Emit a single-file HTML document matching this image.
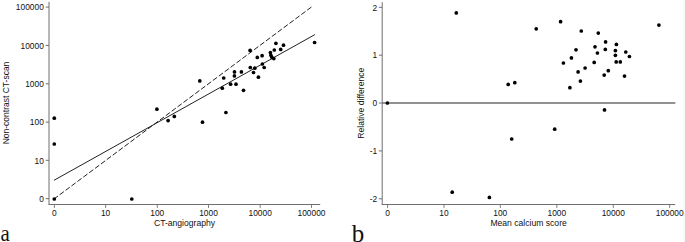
<!DOCTYPE html>
<html><head><meta charset="utf-8"><style>
html,body{margin:0;padding:0;background:#fff;}
svg{display:block;}
text{font-family:"Liberation Sans",sans-serif;font-size:8.4px;fill:#111;}
text.ser{font-family:"Liberation Serif",serif;}
</style></head><body>
<svg width="685" height="242" viewBox="0 0 685 242">
<rect x="683.3" y="0" width="1.7" height="242" fill="#f6f8fa"/>
<line x1="49.0" y1="1.9" x2="49.0" y2="204.5" stroke="#6e6e6e" stroke-width="1"/><line x1="48.5" y1="204.5" x2="320.2" y2="204.5" stroke="#6e6e6e" stroke-width="1"/><line x1="45.7" y1="198.7" x2="49.0" y2="198.7" stroke="#6e6e6e" stroke-width="1"/><text x="43.8" y="201.9" text-anchor="end">0</text><line x1="45.7" y1="160.3" x2="49.0" y2="160.3" stroke="#6e6e6e" stroke-width="1"/><text x="43.8" y="163.5" text-anchor="end">10</text><line x1="45.7" y1="122.1" x2="49.0" y2="122.1" stroke="#6e6e6e" stroke-width="1"/><text x="43.8" y="125.3" text-anchor="end">100</text><line x1="45.7" y1="83.8" x2="49.0" y2="83.8" stroke="#6e6e6e" stroke-width="1"/><text x="43.8" y="87.0" text-anchor="end">1000</text><line x1="45.7" y1="45.4" x2="49.0" y2="45.4" stroke="#6e6e6e" stroke-width="1"/><text x="43.8" y="48.6" text-anchor="end">10000</text><line x1="45.7" y1="7.1" x2="49.0" y2="7.1" stroke="#6e6e6e" stroke-width="1"/><text x="43.8" y="10.3" text-anchor="end">100000</text><line x1="54.4" y1="204.5" x2="54.4" y2="207.9" stroke="#6e6e6e" stroke-width="0.9"/><text x="54.4" y="216.3" text-anchor="middle">0</text><line x1="105.6" y1="204.5" x2="105.6" y2="207.9" stroke="#6e6e6e" stroke-width="0.9"/><text x="105.6" y="216.3" text-anchor="middle">10</text><line x1="157.3" y1="204.5" x2="157.3" y2="207.9" stroke="#6e6e6e" stroke-width="0.9"/><text x="157.3" y="216.3" text-anchor="middle">100</text><line x1="208.5" y1="204.5" x2="208.5" y2="207.9" stroke="#6e6e6e" stroke-width="0.9"/><text x="208.5" y="216.3" text-anchor="middle">1000</text><line x1="260.2" y1="204.5" x2="260.2" y2="207.9" stroke="#6e6e6e" stroke-width="0.9"/><text x="260.2" y="216.3" text-anchor="middle">10000</text><line x1="311.5" y1="204.5" x2="311.5" y2="207.9" stroke="#6e6e6e" stroke-width="0.9"/><text x="311.5" y="216.3" text-anchor="middle">100000</text><line x1="382.2" y1="2.2" x2="382.2" y2="204.5" stroke="#6e6e6e" stroke-width="1"/><line x1="381.7" y1="204.5" x2="675.2" y2="204.5" stroke="#6e6e6e" stroke-width="1"/><line x1="378.9" y1="7.3" x2="382.2" y2="7.3" stroke="#6e6e6e" stroke-width="1"/><text x="377.2" y="10.5" text-anchor="end">2</text><line x1="378.9" y1="55.2" x2="382.2" y2="55.2" stroke="#6e6e6e" stroke-width="1"/><text x="377.2" y="58.4" text-anchor="end">1</text><line x1="378.9" y1="103.0" x2="382.2" y2="103.0" stroke="#6e6e6e" stroke-width="1"/><text x="377.2" y="106.2" text-anchor="end">0</text><line x1="378.9" y1="150.9" x2="382.2" y2="150.9" stroke="#6e6e6e" stroke-width="1"/><text x="377.2" y="154.1" text-anchor="end">-1</text><line x1="378.9" y1="198.8" x2="382.2" y2="198.8" stroke="#6e6e6e" stroke-width="1"/><text x="377.2" y="202.0" text-anchor="end">-2</text><line x1="387.6" y1="204.5" x2="387.6" y2="207.9" stroke="#6e6e6e" stroke-width="0.9"/><text x="387.6" y="216.3" text-anchor="middle">0</text><line x1="444.0" y1="204.5" x2="444.0" y2="207.9" stroke="#6e6e6e" stroke-width="0.9"/><text x="444.0" y="216.3" text-anchor="middle">10</text><line x1="500.3" y1="204.5" x2="500.3" y2="207.9" stroke="#6e6e6e" stroke-width="0.9"/><text x="500.3" y="216.3" text-anchor="middle">100</text><line x1="556.8" y1="204.5" x2="556.8" y2="207.9" stroke="#6e6e6e" stroke-width="0.9"/><text x="556.8" y="216.3" text-anchor="middle">1000</text><line x1="613.3" y1="204.5" x2="613.3" y2="207.9" stroke="#6e6e6e" stroke-width="0.9"/><text x="613.3" y="216.3" text-anchor="middle">10000</text><line x1="669.7" y1="204.5" x2="669.7" y2="207.9" stroke="#6e6e6e" stroke-width="0.9"/><text x="669.7" y="216.3" text-anchor="middle">100000</text><line x1="54.0" y1="180.3" x2="314.9" y2="34.6" stroke="#222" stroke-width="1"/><line x1="54.4" y1="198.7" x2="311.6" y2="6.9" stroke="#222" stroke-width="1" stroke-dasharray="5.2 2.151" stroke-dashoffset="0.74"/><line x1="382.2" y1="103.0" x2="675.3" y2="103.0" stroke="#6e6e6e" stroke-width="1.3"/><g fill="#000"><circle cx="54.3" cy="118.2" r="1.85"/><circle cx="54.3" cy="144.0" r="1.85"/><circle cx="54.3" cy="199.0" r="1.85"/><circle cx="131.8" cy="199.0" r="1.85"/><circle cx="156.9" cy="109.2" r="1.85"/><circle cx="168.1" cy="120.6" r="1.85"/><circle cx="174.3" cy="116.4" r="1.85"/><circle cx="199.8" cy="80.9" r="1.85"/><circle cx="202.5" cy="122.2" r="1.85"/><circle cx="222.3" cy="88.2" r="1.85"/><circle cx="223.7" cy="78.0" r="1.85"/><circle cx="225.9" cy="112.5" r="1.85"/><circle cx="230.6" cy="84.2" r="1.85"/><circle cx="234.5" cy="71.9" r="1.85"/><circle cx="234.4" cy="75.9" r="1.85"/><circle cx="236.0" cy="84.2" r="1.85"/><circle cx="241.4" cy="71.9" r="1.85"/><circle cx="243.5" cy="90.3" r="1.85"/><circle cx="250.1" cy="50.4" r="1.85"/><circle cx="250.3" cy="67.5" r="1.85"/><circle cx="253.5" cy="72.5" r="1.85"/><circle cx="254.8" cy="68.2" r="1.85"/><circle cx="257.3" cy="57.4" r="1.85"/><circle cx="258.4" cy="77.2" r="1.85"/><circle cx="262.1" cy="55.7" r="1.85"/><circle cx="262.4" cy="64.0" r="1.85"/><circle cx="264.2" cy="67.5" r="1.85"/><circle cx="270.4" cy="52.6" r="1.85"/><circle cx="270.9" cy="55.3" r="1.85"/><circle cx="271.9" cy="57.3" r="1.85"/><circle cx="273.8" cy="58.6" r="1.85"/><circle cx="274.3" cy="50.0" r="1.85"/><circle cx="275.9" cy="43.3" r="1.85"/><circle cx="280.7" cy="49.4" r="1.85"/><circle cx="283.5" cy="45.2" r="1.85"/><circle cx="314.6" cy="42.5" r="1.85"/><circle cx="387.4" cy="103" r="1.85"/><circle cx="456.3" cy="12.9" r="1.85"/><circle cx="452.2" cy="192.2" r="1.85"/><circle cx="489.4" cy="197.4" r="1.85"/><circle cx="508.2" cy="84.4" r="1.85"/><circle cx="514.8" cy="82.7" r="1.85"/><circle cx="511.7" cy="139" r="1.85"/><circle cx="536.2" cy="28.8" r="1.85"/><circle cx="554.7" cy="129.2" r="1.85"/><circle cx="560.6" cy="21.7" r="1.85"/><circle cx="563.4" cy="63" r="1.85"/><circle cx="569.9" cy="87.7" r="1.85"/><circle cx="571.4" cy="57.9" r="1.85"/><circle cx="576" cy="49.8" r="1.85"/><circle cx="578.1" cy="71.9" r="1.85"/><circle cx="580.4" cy="81.1" r="1.85"/><circle cx="581.3" cy="31" r="1.85"/><circle cx="585.1" cy="68" r="1.85"/><circle cx="594.2" cy="62.4" r="1.85"/><circle cx="595" cy="46.8" r="1.85"/><circle cx="597.4" cy="53" r="1.85"/><circle cx="598.3" cy="33.1" r="1.85"/><circle cx="604.2" cy="75.1" r="1.85"/><circle cx="604.5" cy="109.9" r="1.85"/><circle cx="605.6" cy="41.9" r="1.85"/><circle cx="605.3" cy="49.4" r="1.85"/><circle cx="608.3" cy="70.7" r="1.85"/><circle cx="615.4" cy="50.6" r="1.85"/><circle cx="615.4" cy="55.3" r="1.85"/><circle cx="616.4" cy="44.4" r="1.85"/><circle cx="616.2" cy="61.9" r="1.85"/><circle cx="620.3" cy="61.9" r="1.85"/><circle cx="624.5" cy="76.1" r="1.85"/><circle cx="625.8" cy="52" r="1.85"/><circle cx="629.4" cy="56.5" r="1.85"/><circle cx="658.9" cy="25.1" r="1.85"/></g><text x="184.5" y="225.5" text-anchor="middle" style="font-size:8.6px">CT-angiography</text><text x="528.6" y="225.5" text-anchor="middle" style="font-size:8.6px">Mean calcium score</text><text transform="translate(9.1,103.0) rotate(-90)" text-anchor="middle" style="font-size:8.5px">Non-contrast CT-scan</text><text transform="translate(364.0,103.2) rotate(-90)" text-anchor="middle" style="font-size:8.6px">Relative difference</text><text x="0" y="0" class="ser" transform="translate(0.4,241.0) scale(0.89,1)" style="font-size:23.5px">a</text><text x="351.7" y="241.8" class="ser" style="font-size:25px">b</text>
</svg>
</body></html>
